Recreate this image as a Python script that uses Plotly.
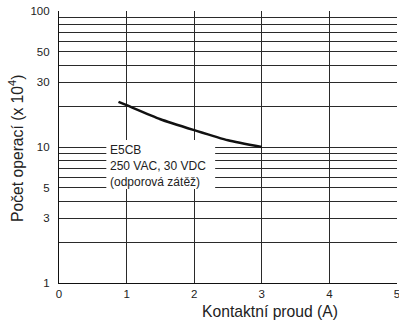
import plotly.graph_objects as go

# Data
current_a = [0.88, 1.0, 1.5, 2.0, 2.5, 3.0]
operations_e4 = [21.5, 20.3, 16.0, 13.3, 11.2, 10.0]

x_ticks = [0, 1, 2, 3, 4, 5]
y_grid = [1, 2, 3, 4, 5, 6, 7, 8, 9, 10, 20, 30, 40, 50, 60, 70, 80, 90, 100]
y_labels = {1: "1", 3: "3", 5: "5", 10: "10", 30: "30", 50: "50", 100: "100"}
label_lines = ["E5CB", "250 VAC, 30 VDC", "(odporová zátěž)"]

FONT = "Liberation Sans, Arial, sans-serif"
GRID = "#2a2a2a"

fig = go.Figure()
fig.add_trace(go.Scatter(
    x=current_a, y=operations_e4, mode="lines",
    line=dict(color="#111111", width=2.5, shape="spline", smoothing=0.6),
    showlegend=False, hoverinfo="skip",
))

fig.update_layout(
    width=399, height=320,
    margin=dict(l=59, r=2, t=11, b=37),
    paper_bgcolor="white", plot_bgcolor="white",
    font=dict(family=FONT, size=11.5, color="#222222"),
    xaxis=dict(
        range=[0, 5], tickvals=x_ticks, ticktext=[str(v) for v in x_ticks],
        showgrid=True, gridcolor=GRID, gridwidth=1, automargin=False,
        showline=True, linecolor="#111111", linewidth=1.2, mirror=False,
        zeroline=False, ticks="", tickfont=dict(size=11.5),
        ticklabeloverflow="allow",
    ),
    yaxis=dict(
        type="log", range=[0, 2], automargin=False,
        tickvals=y_grid, ticktext=[y_labels.get(v, "") for v in y_grid],
        showgrid=True, gridcolor=GRID, gridwidth=1,
        showline=True, linecolor="#111111", linewidth=1.2,
        zeroline=False, ticks="", tickfont=dict(size=11.5),
        ticklabeloverflow="allow", ticklabelstandoff=6,
    ),
)

# white label box
fig.add_shape(type="rect", xref="x", yref="paper",
              x0=0.70, x1=2.31, y0=(320 - 37 - 189) / 272, y1=(320 - 37 - 140) / 272,
              fillcolor="white", line=dict(width=0), layer="above")

line_y = [150, 166, 182]
for txt, py in zip(label_lines, line_y):
    fig.add_annotation(text=txt, xref="x", yref="paper", x=0.725,
                       y=(283 - py) / 272, xanchor="left", yanchor="middle",
                       showarrow=False, font=dict(size=12, color="#222222"))

fig.add_annotation(text="Kontaktní proud (A)", xref="paper", yref="paper",
                   x=(270 - 59) / 338, y=-(311.5 - 283) / 272,
                   xanchor="center", yanchor="middle", showarrow=False,
                   font=dict(size=15.7, color="#222222"))
fig.add_annotation(text="Počet operací (x 10<sup>4</sup>)", xref="paper", yref="paper",
                   x=-(59 - 16) / 338, y=(283 - 148) / 272,
                   xanchor="center", yanchor="middle", textangle=-90, showarrow=False,
                   font=dict(size=15.7, color="#222222"))

fig.write_html("out.html", config={"displayModeBar": False},
               post_script="document.body.style.margin='0';document.body.style.overflow='hidden';")
